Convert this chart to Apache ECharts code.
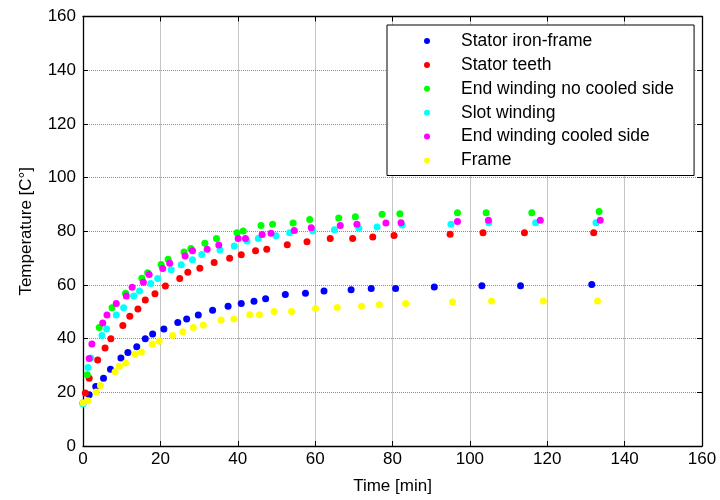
<!DOCTYPE html>
<html>
<head>
<meta charset="utf-8">
<title>Temperature</title>
<script src="https://cdn.jsdelivr.net/npm/echarts@6/dist/echarts.min.js"></script>
<style>
  html, body { margin: 0; padding: 0; background: #fff; }
  #chart { width: 720px; height: 500px; }
</style>
</head>
<body>
<div id="chart"></div>
<script>
// x ticks / y ticks
var timeTicks = [0, 20, 40, 60, 80, 100, 120, 140, 160];
var tempTicks = [0, 20, 40, 60, 80, 100, 120, 140, 160];

var seriesNames = [
  "Stator iron-frame",
  "Stator teeth",
  "End winding no cooled side",
  "Slot winding",
  "End winding cooled side",
  "Frame"
];
var seriesColors = ["#0000ff", "#ff0000", "#00ff00", "#00ffff", "#ff00ff", "#ffff00"];

/* Stator iron-frame */
var ironTime = [0, 1.6, 3.3, 5.3, 7.1, 9.8, 11.6, 13.9, 16.1, 18.0, 20.9, 24.5, 26.8, 29.8, 33.5, 37.5, 40.9, 44.2, 47.2, 52.3, 57.5, 62.3, 69.3, 74.5, 80.8, 90.8, 103.1, 113.1, 131.5];
var ironTemp = [16.0, 19.1, 22.2, 25.2, 28.6, 32.8, 34.8, 37.0, 40.0, 41.7, 43.6, 46.0, 47.3, 48.8, 50.6, 52.1, 53.1, 53.9, 54.9, 56.4, 56.9, 57.7, 58.2, 58.7, 58.7, 59.2, 59.7, 59.7, 60.2];

/* Stator teeth */
var teethTime = [0.6, 1.6, 3.8, 5.7, 7.2, 10.3, 12.1, 14.2, 16.1, 18.6, 21.3, 25.0, 27.1, 30.2, 33.9, 37.9, 40.9, 44.6, 47.5, 52.8, 57.9, 63.9, 69.7, 74.9, 80.4, 94.9, 103.4, 114.1, 132.0];
var teethTemp = [19.7, 25.2, 32.0, 36.5, 40.0, 44.9, 48.3, 51.0, 54.4, 56.7, 59.6, 62.4, 64.7, 66.2, 68.4, 69.9, 71.2, 72.7, 73.3, 75.0, 76.1, 77.3, 77.3, 77.9, 78.4, 78.9, 79.4, 79.4, 79.4];

/* End winding no cooled side */
var endNcTime = [1.1, 4.2, 7.5, 11.0, 15.2, 16.7, 20.2, 22.0, 26.1, 27.9, 31.5, 34.5, 39.8, 41.4, 46.0, 49.0, 54.3, 58.6, 66.1, 70.4, 77.3, 81.9, 96.8, 104.2, 116.0, 133.4];
var endNcTemp = [26.5, 44.1, 51.5, 56.9, 62.5, 64.5, 67.6, 69.6, 72.3, 73.6, 75.5, 77.3, 79.4, 80.1, 82.1, 82.6, 83.1, 84.4, 84.9, 85.4, 86.3, 86.5, 86.9, 86.9, 86.9, 87.4];

/* Slot winding */
var slotTime = [0, 1.3, 2.0, 4.9, 6.1, 8.6, 10.5, 13.1, 14.6, 17.5, 19.3, 22.8, 25.4, 28.3, 30.7, 35.4, 39.1, 42.4, 45.3, 49.9, 53.4, 59.4, 65.0, 71.3, 76.0, 82.5, 95.1, 104.9, 117.0, 132.6];
var slotTemp = [15.6, 29.2, 32.8, 41.2, 43.6, 48.8, 51.5, 55.9, 57.7, 60.5, 62.4, 65.7, 67.5, 69.4, 71.3, 73.0, 74.5, 76.4, 77.3, 78.3, 79.4, 80.1, 80.6, 81.1, 81.6, 82.3, 82.6, 83.2, 83.2, 83.2];

/* End winding cooled side */
var endCTime = [1.6, 2.3, 5.1, 6.2, 8.6, 11.2, 12.7, 15.6, 17.1, 20.6, 22.4, 26.4, 28.3, 32.1, 35.1, 40.1, 42.0, 46.3, 48.6, 54.6, 59.0, 66.5, 70.8, 78.3, 82.2, 96.8, 104.8, 118.2, 133.7];
var endCTemp = [32.6, 38.0, 45.8, 48.8, 53.1, 55.9, 59.1, 61.0, 63.9, 66.1, 68.1, 70.8, 72.7, 73.3, 74.9, 77.3, 77.3, 78.8, 79.3, 80.3, 81.3, 82.1, 82.6, 83.1, 83.2, 83.6, 84.1, 84.1, 84.1];

/* Frame */
var frameTime = [0, 1.3, 3.4, 4.5, 8.3, 9.4, 11.0, 13.5, 15.1, 17.9, 19.7, 23.2, 25.8, 28.5, 31.1, 35.7, 39.0, 43.1, 45.6, 49.4, 53.9, 60.1, 65.7, 72.0, 76.6, 83.4, 95.5, 105.6, 119.0, 133.0];
var frameTemp = [16.1, 16.9, 20.1, 22.5, 27.7, 29.7, 30.9, 34.2, 35.0, 38.0, 39.0, 41.2, 42.6, 44.1, 45.1, 46.9, 47.3, 48.9, 48.9, 50.1, 50.1, 51.2, 51.6, 52.1, 52.6, 53.1, 53.6, 54.0, 54.0, 54.0];

var allTimes = [ironTime, teethTime, endNcTime, slotTime, endCTime, frameTime];
var allTemps = [ironTemp, teethTemp, endNcTemp, slotTemp, endCTemp, frameTemp];

function zip(xs, ys) {
  var out = [];
  for (var i = 0; i < xs.length; i++) {
    out.push([xs[i], ys[i]]);
  }
  return out;
}

var font = "Liberation Sans, Arial, sans-serif";
var gridLine = { show: true, lineStyle: { color: "#8c8c8c", type: "dotted", width: 1 } };
var blackLine = { show: true, onZero: false, lineStyle: { color: "#000", width: 1.3 } };
var inTick = { show: true, inside: true, length: 5, lineStyle: { color: "#000" } };

var series = [];
for (var k = 0; k < seriesNames.length; k++) {
  series.push({
    name: seriesNames[k],
    type: "scatter",
    symbol: "circle",
    symbolSize: 7,
    itemStyle: { color: seriesColors[k], opacity: 1 },
    xAxisIndex: 0,
    yAxisIndex: 0,
    data: zip(allTimes[k], allTemps[k])
  });
}

var chart = echarts.init(document.getElementById("chart"));
chart.setOption({
  animation: false,
  backgroundColor: "#fff",
  grid: { left: 83, right: 18, top: 16.5, bottom: 48, containLabel: false },
  legend: {
    orient: "vertical",
    left: 387,
    top: 25,
    padding: [6, 20, 5, 37],
    itemWidth: 6,
    itemHeight: 6,
    itemGap: 3.9,
    icon: "circle",
    backgroundColor: "#fff",
    borderColor: "#000",
    borderWidth: 1,
    borderRadius: 0,
    data: seriesNames,
    textStyle: {
      fontFamily: font,
      fontSize: 17.5,
      color: "#000",
      lineHeight: 20,
      padding: [0, 0, 0, 26]
    }
  },
  xAxis: [
    {
      type: "value",
      min: timeTicks[0],
      max: timeTicks[timeTicks.length - 1],
      interval: timeTicks[1] - timeTicks[0],
      name: "Time [min]",
      nameLocation: "middle",
      nameGap: 32,
      nameTextStyle: { fontFamily: font, fontSize: 17, color: "#000" },
      axisLine: blackLine,
      axisTick: inTick,
      axisLabel: { fontFamily: font, fontSize: 17, color: "#000", margin: 5 },
      splitLine: gridLine
    },
    {
      type: "value",
      position: "top",
      min: timeTicks[0],
      max: timeTicks[timeTicks.length - 1],
      interval: timeTicks[1] - timeTicks[0],
      axisLine: blackLine,
      axisTick: inTick,
      axisLabel: { show: false },
      splitLine: { show: false }
    }
  ],
  yAxis: [
    {
      type: "value",
      min: tempTicks[0],
      max: tempTicks[tempTicks.length - 1],
      interval: tempTicks[1] - tempTicks[0],
      name: "Temperature [C°]",
      nameLocation: "middle",
      nameGap: 48,
      nameTextStyle: { fontFamily: font, fontSize: 17, color: "#000" },
      axisLine: blackLine,
      axisTick: inTick,
      axisLabel: { fontFamily: font, fontSize: 17, color: "#000", margin: 7 },
      splitLine: gridLine
    },
    {
      type: "value",
      position: "right",
      min: tempTicks[0],
      max: tempTicks[tempTicks.length - 1],
      interval: tempTicks[1] - tempTicks[0],
      axisLine: blackLine,
      axisTick: inTick,
      axisLabel: { show: false },
      splitLine: { show: false }
    }
  ],
  series: series
});
</script>
</body>
</html>
